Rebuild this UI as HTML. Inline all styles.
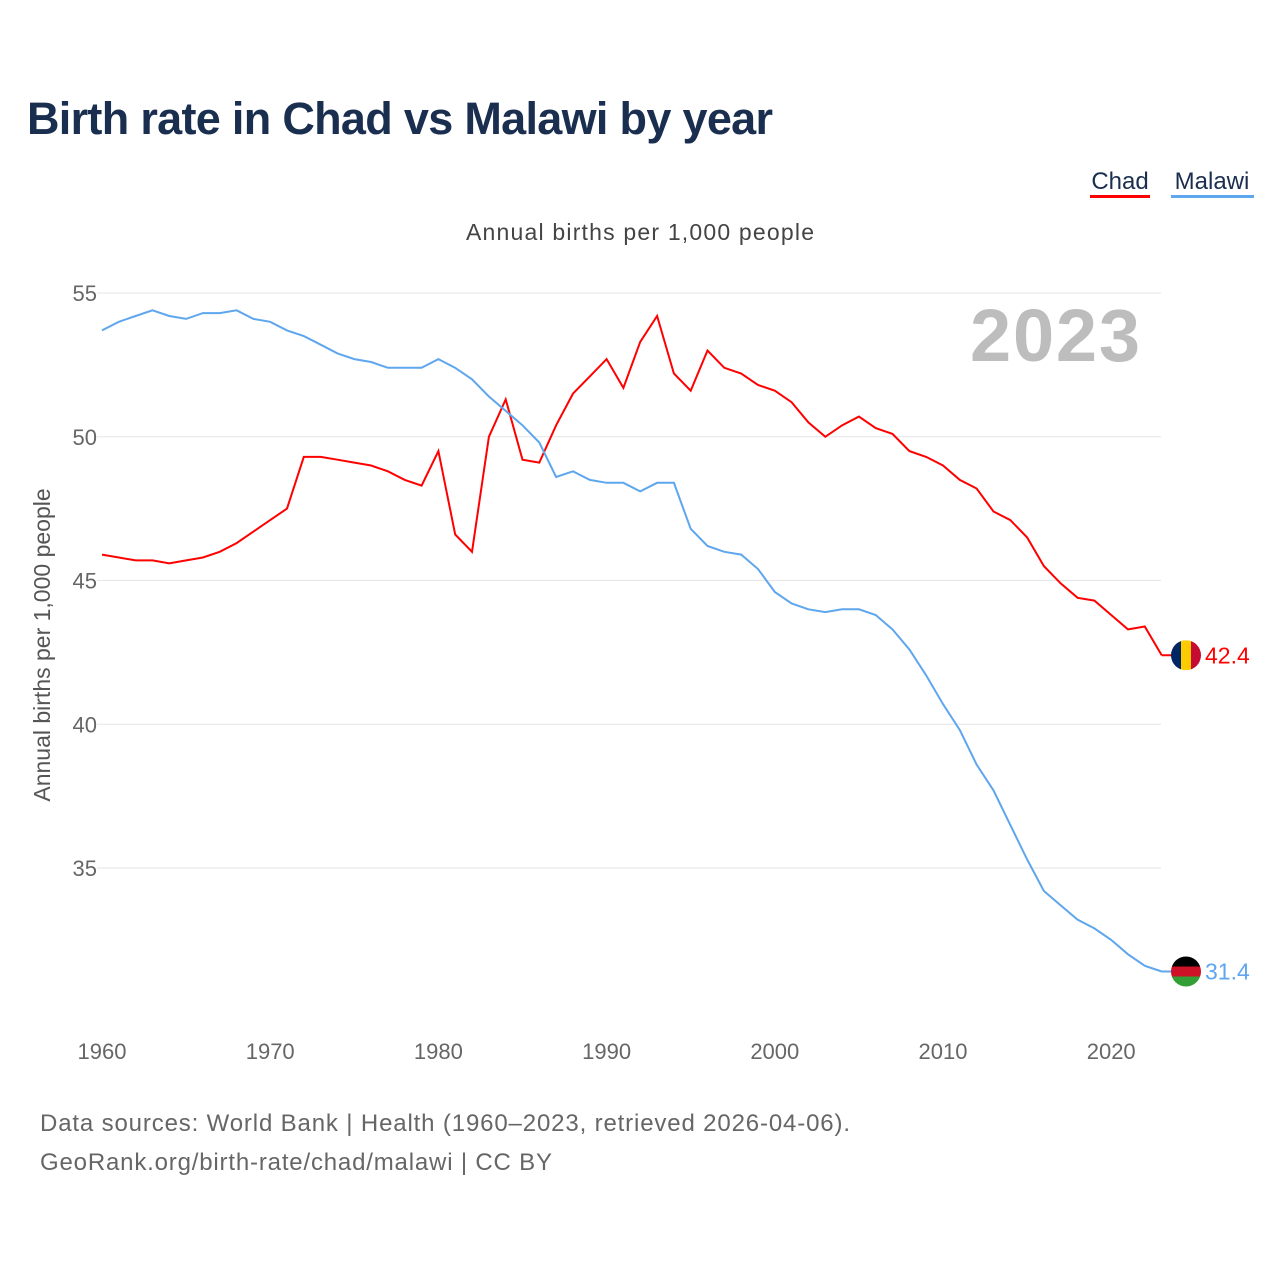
<!DOCTYPE html>
<html><head><meta charset="utf-8"><style>
body{margin:0;background:#fff;width:1280px;height:1280px;overflow:hidden;font-family:"Liberation Sans",sans-serif}
</style></head><body>
<svg id="chart" width="1280" height="1280" xmlns="http://www.w3.org/2000/svg">
<text x="27" y="134" font-size="45" font-weight="bold" fill="#1a2e4f" textLength="746">Birth rate in Chad vs Malawi by year</text>
<g>
<text x="1120" y="189" font-size="24" fill="#1a2e4f" text-anchor="middle">Chad</text>
<rect x="1090" y="195" width="60" height="3" fill="#ff0000"/>
<text x="1212" y="189" font-size="24" fill="#1a2e4f" text-anchor="middle">Malawi</text>
<rect x="1171" y="195" width="83" height="3" fill="#5ea6ee"/>
</g>
<text x="466" y="240" font-size="23" fill="#444" textLength="348">Annual births per 1,000 people</text>
<text x="970" y="361" font-size="74" font-weight="bold" fill="#bdbdbd" textLength="170">2023</text>
<text transform="translate(50,645) rotate(-90)" font-size="23" fill="#555" text-anchor="middle">Annual births per 1,000 people</text>
<g id="grid"></g><g id="xt"></g><g id="lines"></g>
<text x="40" y="1131" font-size="24" fill="#666" textLength="810">Data sources: World Bank | Health (1960–2023, retrieved 2026-04-06).</text>
<text x="40" y="1170" font-size="24" fill="#666" textLength="512">GeoRank.org/birth-rate/chad/malawi | CC BY</text>
</svg>
<script>
const years=[];for(let y=1960;y<=2023;y++)years.push(y);
const chad=[45.9,45.8,45.7,45.7,45.6,45.7,45.8,46.0,46.3,46.7,47.1,47.5,49.3,49.3,49.2,49.1,49.0,48.8,48.5,48.3,49.5,46.6,46.0,50.0,51.3,49.2,49.1,50.4,51.5,52.1,52.7,51.7,53.3,54.2,52.2,51.6,53.0,52.4,52.2,51.8,51.6,51.2,50.5,50.0,50.4,50.7,50.3,50.1,49.5,49.3,49.0,48.5,48.2,47.4,47.1,46.5,45.5,44.9,44.4,44.3,43.8,43.3,43.4,42.4];
const malawi=[53.7,54.0,54.2,54.4,54.2,54.1,54.3,54.3,54.4,54.1,54.0,53.7,53.5,53.2,52.9,52.7,52.6,52.4,52.4,52.4,52.7,52.4,52.0,51.4,50.9,50.4,49.8,48.6,48.8,48.5,48.4,48.4,48.1,48.4,48.4,46.8,46.2,46.0,45.9,45.4,44.6,44.2,44.0,43.9,44.0,44.0,43.8,43.3,42.6,41.7,40.7,39.8,38.6,37.7,36.5,35.3,34.2,33.7,33.2,32.9,32.5,32.0,31.6,31.4];
const yTicks=[35,40,45,50,55];
const xTicks=[1960,1970,1980,1990,2000,2010,2020];
const NS='http://www.w3.org/2000/svg';
const X=y=>102+(y-1960)*16.82;
const Y=v=>293+(55-v)*28.75;
function mk(t,a,p){const e=document.createElementNS(NS,t);for(const k in a)e.setAttribute(k,a[k]);p.appendChild(e);return e;}
const g=document.getElementById('grid');
yTicks.forEach(v=>{
 const l=mk('line',{x1:97,x2:1161,y1:Y(v),y2:Y(v),stroke:'#e6e6e6','stroke-width':1},g);
 
 
 const t=mk('text',{x:97,y:Y(v)+8,'font-size':22,fill:'#666','text-anchor':'end'},g);t.textContent=v;
 
 
});
const xt=document.getElementById('xt');
xTicks.forEach(v=>{
 const t=mk('text',{x:X(v),y:1059,'font-size':22,fill:'#666','text-anchor':'middle'},xt);t.textContent=v;
 
 
});
const lg=document.getElementById('lines');
function series(data,color,name,flag){
 const p=mk('path',{d:data.map((v,i)=>(i?'L':'M')+X(years[i]).toFixed(1)+','+Y(v).toFixed(1)).join(''),fill:'none',stroke:color,'stroke-width':2},lg);
 
 
 const last=data[data.length-1],cy=Y(last),cx=1186;
 const h=mk('line',{x1:X(2023),x2:cx-14,y1:cy,y2:cy,stroke:color,'stroke-width':2},lg);
 
 
 const cp=mk('clipPath',{id:'c'+name},lg);mk('circle',{cx:cx,cy:cy,r:15},cp);
 const fg=mk('g',{'clip-path':'url(#c'+name+')'},lg);
 
 
 flag.forEach(f=>mk('rect',{x:cx-15+f[0],y:cy-15+f[1],width:f[2],height:f[3],fill:f[4]},fg));
 const t=mk('text',{x:1205,y:cy+8,'font-size':23,fill:color},lg);t.textContent=last.toFixed(1);
 
 
}
series(chad,'#ff0000','chad',[[0,0,10,30,'#002664'],[10,0,10,30,'#fecb00'],[20,0,10,30,'#c60c30']]);
series(malawi,'#5ea6ee','malawi',[[0,0,30,10,'#000'],[0,10,30,10,'#ce1126'],[0,20,30,10,'#339e35']]);
</script>
</body></html>
